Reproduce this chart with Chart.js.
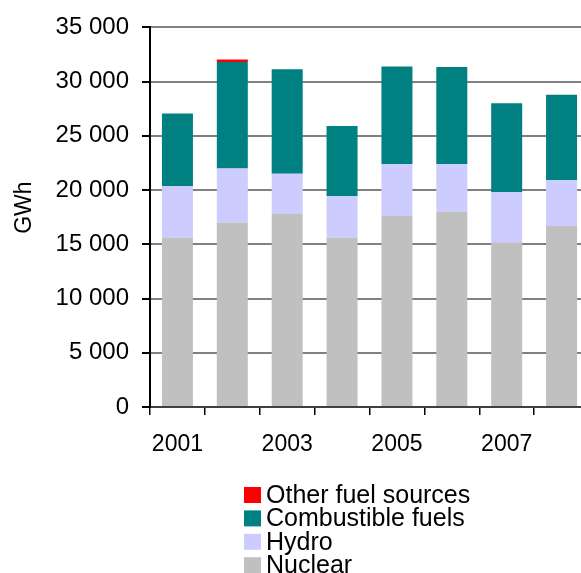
<!DOCTYPE html>
<html>
<head>
<meta charset="utf-8">
<script src="https://cdn.jsdelivr.net/npm/chart.js@4/dist/chart.umd.min.js"></script>
<style>
  html, body { margin: 0; padding: 0; background: #fff; overflow: hidden; }
  #wrap { width: 589px; height: 573px; }
</style>
</head>
<body>
<div id="wrap"><canvas id="myChart" width="589" height="573"></canvas></div>
<script>
const years = ['2001', '2002', '2003', '2004', '2005', '2006', '2007', '2008'];

const nuclear     = [15600, 17000, 17800, 15600, 17600, 18000, 15200, 16700];
const hydro       = [4750, 5000, 3700, 3850, 4800, 4400, 4600, 4200];
const combustible = [6700, 9800, 9650, 6450, 9000, 8950, 8200, 7900];
const otherFuel   = [0, 250, 0, 0, 0, 0, 0, 0];

const yTicks = [0, 5000, 10000, 15000, 20000, 25000, 30000, 35000];

const FONT = "'Liberation Sans', Arial, sans-serif";

// thousands with a space: 35 000
const fmt = (v) => String(v).replace(/\B(?=(\d{3})+(?!\d))/g, ' ');

const data = {
  labels: years,
  datasets: [
    { label: 'Nuclear', data: nuclear, backgroundColor: '#C0C0C0' },
    { label: 'Hydro', data: hydro, backgroundColor: '#CCCCFF' },
    { label: 'Combustible fuels', data: combustible, backgroundColor: '#008080' },
    { label: 'Other fuel sources', data: otherFuel, backgroundColor: '#FF0000' }
  ]
};

/* legend drawn under the plot, one item per row, reversed */
const stackLegend = {
  id: 'stackLegend',
  afterDraw(chart) {
    const {ctx} = chart;
    const sets = chart.data.datasets.slice().reverse();
    ctx.save();
    ctx.font = '25px ' + FONT;
    ctx.textBaseline = 'middle';
    ctx.textAlign = 'left';
    sets.forEach((ds, i) => {
      const top = 487 + i * 23.4;
      ctx.fillStyle = ds.backgroundColor;
      ctx.fillRect(244, top, 17, 16);
      ctx.fillStyle = '#000';
      ctx.fillText(ds.label, 266, top + 9);
    });
    ctx.restore();
  }
};

const config = {
  type: 'bar',
  data,
  options: {
    responsive: false,
    animation: false,
    layout: { padding: { top: 27, right: 0, bottom: 106, left: 0 } },
    datasets: {
      bar: { barPercentage: 0.565, categoryPercentage: 1 }
    },
    plugins: {
      legend: { display: false },
      tooltip: { enabled: false }
    },
    scales: {
      x: {
        stacked: true,
        offset: true,
        grid: {
          offset: true,
          drawOnChartArea: false,
          drawTicks: true,
          tickLength: 8,
          tickColor: '#000',
          lineWidth: 1.5
        },
        border: { display: true, color: '#404040', width: 2 },
        ticks: {
          autoSkip: false,
          maxRotation: 0,
          padding: 16,
          color: '#000',
          font: { family: FONT, size: 23 },
          callback: (v, i) => (i % 2 === 0 ? years[i] : '')
        },
        afterFit: (scale) => { scale.height = 60; }
      },
      y: {
        stacked: true,
        min: 0,
        max: 35000,
        afterBuildTicks: (scale) => { scale.ticks = yTicks.map(v => ({value: v})); },
        grid: {
          color: '#808080',
          lineWidth: 2,
          tickLength: 8,
          tickColor: '#000'
        },
        border: { display: true, color: '#000', width: 2 },
        ticks: {
          padding: 13,
          color: '#000',
          font: { family: FONT, size: 24 },
          callback: (v) => fmt(v)
        },
        title: {
          display: true,
          text: '   GWh',
          color: '#000',
          padding: { top: 11, bottom: 0 },
          font: { family: FONT, size: 23 }
        },
        afterFit: (scale) => { scale.width = 150; }
      }
    }
  },
  plugins: [stackLegend]
};

var myChart = new Chart(
  document.getElementById('myChart').getContext('2d'),
  config
);
</script>
</body>
</html>
